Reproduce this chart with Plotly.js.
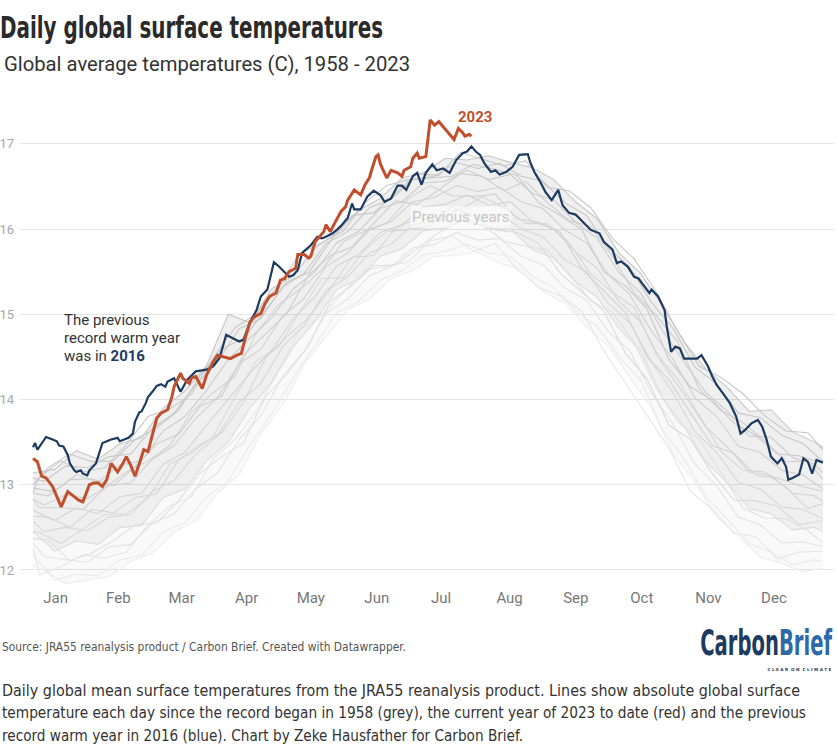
<!DOCTYPE html>
<html>
<head>
<meta charset="utf-8">
<script src="https://cdn.plot.ly/plotly-3.0.1.min.js"></script>
<style>
  html, body { margin: 0; padding: 0; background: #ffffff; }
  #chart { width: 838px; height: 750px; }
</style>
</head>
<body>
<div id="chart"></div>
<script>
// ---------------- DATA ----------------
const monthLabels = ["Jan","Feb","Mar","Apr","May","Jun","Jul","Aug","Sep","Oct","Nov","Dec"];
const monthLabelDays = [11.4, 40.3, 69.5, 99.4, 129.0, 159.4, 189.0, 220.6, 251.1, 281.5, 312.2, 342.4];
const yTickValues = [12, 13, 14, 15, 16, 17];

// 2016 (previous record warm year, blue)
const days2016 = [1,2,3,7,10,12,13,15,17,18,20,21,23,24,26,27,30,31,33,35,37,40,41,43,45,47,48,50,51,53,54,56,58,60,62,63,66,69,72,76,81,84,87,90,93,96,98,101,104,106,109,112,114,116,119,121,123,125,129,132,134,136,139,141,143,146,148,149,152,155,158,161,163,166,169,171,173,176,178,180,182,185,187,190,193,196,199,201,203,205,207,209,212,214,216,219,222,225,229,230,232,235,237,240,243,245,248,251,254,258,262,264,268,270,272,275,278,280,282,285,286,289,292,293,295,297,299,301,304,307,309,312,314,316,319,322,325,327,329,332,335,337,339,341,344,346,348,349,351,354,356,358,360,362,364,365];
const temps2016 = [13.44,13.49,13.41,13.56,13.53,13.51,13.46,13.45,13.35,13.25,13.17,13.15,13.17,13.13,13.11,13.17,13.25,13.33,13.49,13.51,13.53,13.55,13.51,13.53,13.55,13.60,13.74,13.85,13.86,13.96,14.03,14.09,14.16,14.18,14.15,14.21,14.25,14.09,14.23,14.33,14.35,14.39,14.49,14.76,14.72,14.68,14.70,14.91,15.05,15.21,15.29,15.61,15.57,15.52,15.44,15.46,15.52,15.72,15.81,15.91,15.89,15.91,15.95,15.99,16.04,16.13,16.30,16.23,16.23,16.38,16.45,16.40,16.32,16.36,16.51,16.51,16.46,16.62,16.66,16.52,16.66,16.76,16.69,16.71,16.66,16.81,16.89,16.91,16.97,16.91,16.87,16.77,16.67,16.69,16.64,16.67,16.73,16.87,16.88,16.79,16.67,16.54,16.44,16.34,16.46,16.28,16.19,16.17,16.09,15.99,15.95,15.85,15.76,15.60,15.62,15.56,15.44,15.42,15.35,15.25,15.29,15.21,15.05,14.86,14.56,14.62,14.60,14.48,14.48,14.48,14.52,14.39,14.27,14.17,14.07,13.96,13.80,13.60,13.64,13.72,13.76,13.68,13.53,13.33,13.25,13.31,13.21,13.06,13.08,13.12,13.31,13.27,13.13,13.29,13.27,13.26];

// 2023 to date (red)
const days2023 = [1,3,5,7,10,12,14,16,17,20,22,24,27,29,31,33,35,37,40,42,44,46,48,50,52,54,56,58,60,63,65,66,69,70,73,74,76,79,81,84,86,89,92,95,97,99,101,103,106,108,110,113,115,117,119,122,123,126,128,129,131,133,135,136,138,140,143,145,146,149,152,154,156,157,159,160,161,162,164,166,169,171,172,175,176,178,179,182,183,184,186,188,190,192,195,197,199,200,202,203];
const temps2023 = [13.31,13.27,13.10,13.08,12.98,12.86,12.74,12.86,12.92,12.86,12.82,12.80,13.00,13.02,13.02,12.98,13.06,13.25,13.15,13.23,13.33,13.23,13.10,13.25,13.41,13.39,13.58,13.78,13.84,13.88,14.03,14.15,14.31,14.25,14.19,14.25,14.27,14.13,14.29,14.44,14.52,14.50,14.48,14.52,14.54,14.74,14.91,14.97,15.01,15.13,15.21,15.25,15.40,15.42,15.50,15.54,15.70,15.70,15.66,15.68,15.85,15.91,15.97,16.05,15.97,16.07,16.21,16.26,16.34,16.46,16.40,16.52,16.60,16.69,16.85,16.87,16.77,16.71,16.60,16.69,16.66,16.62,16.69,16.73,16.83,16.89,16.83,16.85,17.05,17.28,17.22,17.26,17.20,17.14,17.05,17.18,17.13,17.09,17.11,17.09];

// Previous years (grey): a sample of year-lines spanning the grey band, coldest to warmest
const greyDaysA = [1,11,21,31,41,51,61,71,81,91,101,111,121,131,141,151,161,171,181,191,201,211,221,231,241,251,261,271,281,291,301,311,321,331,341,351,361,365];
const greyDaysB = [1,6,16,26,36,46,56,66,76,86,96,106,116,126,136,146,156,166,176,186,196,206,216,226,236,246,256,266,276,286,296,306,316,326,336,346,356,365];
const greyDaysC = [1,4,14,24,34,44,54,64,74,84,94,104,114,124,134,144,154,164,174,184,194,204,214,224,234,244,254,264,274,284,294,304,314,324,334,344,354,365];
const greyDaysD = [1,8,18,28,38,48,58,68,78,88,98,108,118,128,138,148,158,168,178,188,198,208,218,228,238,248,258,268,278,288,298,308,318,328,338,348,358,365];

const greyB1 = [12.05,12.00,11.84,11.88,11.92,12.10,12.20,12.44,12.58,12.90,13.12,13.60,13.93,14.42,14.73,15.05,15.18,15.42,15.51,15.68,15.69,15.73,15.60,15.52,15.27,15.13,14.85,14.63,14.26,13.90,13.36,13.03,12.62,12.40,12.15,12.08,11.98,12.02];
const greyA1 = [12.18,11.88,11.95,11.93,12.12,12.17,12.45,12.55,12.86,13.04,13.47,13.83,14.26,14.63,15.02,15.15,15.40,15.51,15.70,15.74,15.82,15.72,15.68,15.45,15.31,15.04,14.86,14.50,14.23,13.65,13.30,12.87,12.59,12.31,12.21,12.06,12.12,12.10];
const greyC1 = [12.26,11.94,12.04,12.18,12.14,12.21,12.53,12.75,12.86,13.30,13.53,13.86,14.35,14.82,14.98,15.26,15.52,15.56,15.62,15.86,15.92,15.74,15.83,15.53,15.31,15.22,15.03,14.57,14.19,13.81,13.43,12.92,12.71,12.43,12.39,12.13,12.21,12.22];
const greyB2 = [12.32,12.16,12.12,12.09,12.27,12.30,12.55,12.66,12.95,13.14,13.53,13.81,14.27,14.57,15.01,15.18,15.45,15.56,15.78,15.82,15.96,15.87,15.89,15.68,15.58,15.31,15.17,14.80,14.57,14.08,13.71,13.24,12.99,12.62,12.53,12.32,12.33,12.27];
const greyD1 = [12.37,12.35,12.11,12.20,12.34,12.53,12.55,12.81,13.14,13.33,13.49,14.03,14.30,14.63,15.15,15.34,15.57,15.58,15.77,15.96,16.09,16.05,15.86,15.80,15.75,15.47,15.16,15.02,14.67,14.14,13.74,13.53,13.14,12.73,12.61,12.60,12.46,12.32];
const greyA2 = [12.45,12.22,12.34,12.30,12.50,12.52,12.85,12.95,13.28,13.50,13.90,14.20,14.62,14.92,15.29,15.41,15.68,15.77,15.98,16.01,16.11,16.00,16.00,15.76,15.66,15.38,15.20,14.83,14.57,14.02,13.68,13.27,13.02,12.72,12.66,12.47,12.50,12.45];
const greyC2 = [12.45,12.44,12.31,12.48,12.65,12.66,12.84,13.24,13.37,13.56,14.03,14.46,14.61,15.03,15.42,15.43,15.76,15.97,15.99,16.04,16.26,16.14,15.99,15.96,15.83,15.48,15.26,15.04,14.54,14.24,13.70,13.53,13.13,12.82,12.81,12.75,12.53,12.58];
const greyB3 = [12.57,12.45,12.50,12.46,12.62,12.65,12.92,13.05,13.36,13.57,13.97,14.19,14.62,14.87,15.28,15.44,15.72,15.82,16.05,16.09,16.23,16.15,16.18,16.00,15.91,15.64,15.50,15.13,14.90,14.44,14.08,13.62,13.38,13.03,12.95,12.74,12.71,12.60];
const greyD2 = [12.63,12.62,12.50,12.71,12.67,12.85,12.89,13.29,13.47,13.61,13.97,14.48,14.74,14.96,15.30,15.67,15.69,16.01,16.13,16.10,16.23,16.38,16.25,16.07,16.06,15.84,15.47,15.26,15.08,14.54,14.24,13.81,13.39,13.17,13.15,12.97,12.72,12.78];
const greyA3 = [12.70,12.58,12.73,12.66,12.86,12.90,13.24,13.38,13.70,14.00,14.31,14.58,14.95,15.21,15.57,15.70,15.96,16.05,16.26,16.29,16.40,16.28,16.32,16.09,16.00,15.73,15.54,15.15,14.91,14.42,14.06,13.68,13.44,13.15,13.11,12.90,12.87,12.80];
const greyC3 = [12.83,12.73,12.73,12.71,12.96,13.15,13.28,13.46,13.85,14.08,14.27,14.78,15.11,15.29,15.52,15.85,15.98,16.07,16.36,16.51,16.39,16.38,16.41,16.12,16.08,15.96,15.53,15.27,15.02,14.50,14.23,13.84,13.46,13.37,13.11,13.08,12.99,12.92];
const greyB4 = [12.83,12.76,12.88,12.84,12.99,13.02,13.30,13.46,13.78,14.02,14.42,14.59,14.98,15.19,15.56,15.72,15.99,16.09,16.32,16.37,16.51,16.44,16.49,16.32,16.24,15.99,15.84,15.47,15.23,14.80,14.47,14.02,13.80,13.45,13.38,13.17,13.11,12.95];
const greyD3 = [12.90,12.87,13.06,13.07,12.99,13.21,13.48,13.59,13.92,14.04,14.52,14.76,15.01,15.46,15.69,15.79,16.07,16.33,16.29,16.46,16.65,16.62,16.45,16.56,16.31,16.10,16.03,15.68,15.25,14.99,14.68,14.12,13.87,13.73,13.52,13.27,13.28,13.06];
const greyA4 = [12.96,12.92,13.12,13.03,13.23,13.28,13.63,13.80,14.11,14.47,14.72,14.96,15.30,15.50,15.84,15.97,16.24,16.32,16.54,16.56,16.69,16.58,16.64,16.42,16.34,16.08,15.89,15.49,15.25,14.81,14.44,14.08,13.86,13.57,13.56,13.32,13.24,13.14];
const greyC4 = [12.91,13.09,13.28,13.15,13.20,13.47,13.80,13.89,14.06,14.49,14.84,15.01,15.34,15.71,15.84,15.98,16.31,16.51,16.58,16.60,16.62,16.76,16.70,16.63,16.31,16.16,15.99,15.50,15.33,15.06,14.47,14.15,13.99,13.72,13.58,13.36,13.34,13.25];
const greyB5 = [13.08,13.04,13.22,13.20,13.33,13.36,13.66,13.84,14.17,14.44,14.83,14.95,15.32,15.48,15.83,15.97,16.25,16.35,16.58,16.62,16.78,16.71,16.77,16.62,16.56,16.31,16.16,15.78,15.55,15.14,14.83,14.38,14.18,13.84,13.79,13.58,13.48,13.27];
const greyD4 = [13.00,13.20,13.36,13.27,13.28,13.53,13.67,13.87,14.28,14.59,14.72,15.04,15.38,15.49,15.86,16.16,16.19,16.42,16.65,16.63,16.90,16.82,16.74,16.80,16.49,16.45,16.25,15.89,15.65,15.27,14.80,14.39,14.26,14.07,13.81,13.63,13.61,13.41];
const greyA5 = [13.14,13.18,13.40,13.30,13.48,13.55,13.90,14.10,14.40,15.00,14.90,15.30,15.45,15.78,15.96,16.22,16.36,16.60,16.66,16.83,16.81,16.86,16.78,16.72,16.58,16.32,16.12,15.72,15.48,15.10,14.68,14.36,14.14,13.86,13.88,13.62,13.50,13.44];

// ---------------- GEOMETRY / STYLE ----------------
const W = 838, H = 750;
const M = {l: 20, r: 4, t: 114, b: 163};
const plotW = W - M.l - M.r, plotH = H - M.t - M.b;
const px = x => (x - M.l) / plotW;
const py = y => (H - M.b - y) / plotH;

const RED = '#c0502d', BLUE = '#1d3a60';
const NARROW = "'Liberation Sans Narrow', 'DejaVu Sans Condensed', 'Roboto Condensed', 'Liberation Sans', sans-serif";

// coldest (lightest) to warmest (darkest)
const greyLines = [
  [greyDaysB, greyB1], [greyDaysA, greyA1], [greyDaysC, greyC1], [greyDaysB, greyB2],
  [greyDaysD, greyD1], [greyDaysA, greyA2], [greyDaysC, greyC2], [greyDaysB, greyB3],
  [greyDaysD, greyD2], [greyDaysA, greyA3], [greyDaysC, greyC3], [greyDaysB, greyB4],
  [greyDaysD, greyD3], [greyDaysA, greyA4], [greyDaysC, greyC4], [greyDaysB, greyB5],
  [greyDaysD, greyD4], [greyDaysA, greyA5]
];
const greyShades = ['#ededed','#eaeaea','#e6e6e6','#e3e3e3','#e0e0e0','#dddddd','#dadada','#d8d8d8','#d6d6d6',
                    '#d4d4d4','#d2d2d2','#d0d0d0','#cecece','#cccccc','#cacaca','#c8c8c8','#c7c7c7','#c6c6c6'];

const traces = [
  {x: greyDaysB, y: greyB1, mode: 'lines', line: {width: 0}, hoverinfo: 'skip', showlegend: false},
  {x: greyDaysA, y: greyA5, mode: 'lines', line: {width: 0}, fill: 'tonexty', fillcolor: 'rgba(0,0,0,0.022)', hoverinfo: 'skip', showlegend: false},
  {x: greyDaysA, y: greyA2, mode: 'lines', line: {width: 0}, hoverinfo: 'skip', showlegend: false},
  {x: greyDaysA, y: greyA5, mode: 'lines', line: {width: 0}, fill: 'tonexty', fillcolor: 'rgba(0,0,0,0.04)', hoverinfo: 'skip', showlegend: false}
];
greyLines.forEach((g, i) => traces.push({
  x: g[0], y: g[1], mode: 'lines', line: {color: greyShades[i], width: 1.1}, hoverinfo: 'skip', showlegend: false
}));
traces.push({x: days2016, y: temps2016, mode: 'lines', name: '2016', line: {color: BLUE, width: 2.2}, showlegend: false});
traces.push({x: days2023, y: temps2023, mode: 'lines', name: '2023', line: {color: RED, width: 3}, showlegend: false});

const annotations = [
  // 0 subtitle
  {text: 'Global average temperatures (C), 1958 - 2023', x: px(2), y: py(64), xanchor: 'left', yanchor: 'middle', align: 'left',
   font: {family: "Roboto, 'Noto Sans', sans-serif", size: 20, color: '#333333'}, fit: 406},
  // 1 source
  {text: 'Source: JRA55 reanalysis product / Carbon Brief. Created with Datawrapper.', x: px(0), y: py(647), xanchor: 'left', yanchor: 'middle', align: 'left',
   font: {family: NARROW, size: 13, color: '#555555'}, fit: 404},
  // 2 logo (width set by horizontal scaling below)
  {text: 'Carbon<span style="color:#2f6aa8">Brief</span>', x: px(834), y: py(643), xanchor: 'right', yanchor: 'middle', align: 'right',
   font: {family: NARROW, size: 35, color: '#1d3a60', weight: 700}},
  // 3 logo tagline
  {text: 'C L E A R  O N  C L I M A T E', x: px(834), y: py(669), xanchor: 'right', yanchor: 'middle', align: 'right',
   font: {family: "'DejaVu Sans', sans-serif", size: 4.5, color: '#1d3a60', weight: 700}, fit: 64},
  // 4-6 caption
  {text: 'Daily global mean surface temperatures from the JRA55 reanalysis product. Lines show absolute global surface', x: px(0), y: py(690), xanchor: 'left', yanchor: 'middle', align: 'left',
   font: {family: NARROW, size: 17, color: '#333333'}, fit: 798},
  {text: 'temperature each day since the record began in 1958 (grey), the current year of 2023 to date (red) and the previous', x: px(0), y: py(713), xanchor: 'left', yanchor: 'middle', align: 'left',
   font: {family: NARROW, size: 17, color: '#333333'}, fit: 804},
  {text: 'record warm year in 2016 (blue). Chart by Zeke Hausfather for Carbon Brief.', x: px(0), y: py(736), xanchor: 'left', yanchor: 'middle', align: 'left',
   font: {family: NARROW, size: 17, color: '#333333'}, fit: 521},
  // 7 2023 label
  {text: '<b>2023</b>', x: px(475), y: py(117), xanchor: 'center', yanchor: 'middle', align: 'center',
   font: {family: "Roboto, sans-serif", size: 15, color: RED}},
  // 8 previous years
  {text: 'Previous years', x: px(461), y: py(216.5), xanchor: 'center', yanchor: 'middle', align: 'center',
   bgcolor: 'rgba(255,255,255,0.55)', borderpad: 1,
   font: {family: "Roboto, sans-serif", size: 15, color: '#c6c6c6'}},
  // 9-11 record note
  {text: 'The previous', x: px(62), y: py(320), xanchor: 'left', yanchor: 'middle', align: 'left',
   font: {family: "Roboto, sans-serif", size: 15, color: '#333333'}},
  {text: 'record warm year', x: px(62), y: py(338), xanchor: 'left', yanchor: 'middle', align: 'left',
   font: {family: "Roboto, sans-serif", size: 15, color: '#333333'}},
  {text: 'was in <b><span style="color:' + BLUE + '">2016</span></b>', x: px(62), y: py(356), xanchor: 'left', yanchor: 'middle', align: 'left',
   font: {family: "Roboto, sans-serif", size: 15, color: '#333333'}}
];
const fits = {};
annotations.forEach((a, i) => {
  a.xref = 'paper'; a.yref = 'paper'; a.showarrow = false;
  if (a.fit) { fits[i] = a.fit; delete a.fit; }
});
const TITLE_FIT = 383;
const LOGO_INDEX = 2, LOGO_WIDTH = 132;

const dayPerPx = 364 / 790;
const layout = {
  width: W, height: H, autosize: false,
  margin: M,
  paper_bgcolor: '#ffffff', plot_bgcolor: '#ffffff',
  title: {
    text: '<b>Daily global surface temperatures</b>',
    xref: 'container', yref: 'container', x: 0, y: 1 - 27 / H, xanchor: 'left', yanchor: 'middle',
    pad: {l: 0, r: 0, t: 0, b: 0},
    font: {family: NARROW, size: 31, color: '#2a2a2a'}
  },
  xaxis: {
    range: [1 - 13 * dayPerPx, 365 + 11 * dayPerPx],
    tickmode: 'array', tickvals: monthLabelDays, ticktext: monthLabels,
    showgrid: false, zeroline: false, showline: false, ticks: '',
    tickfont: {family: "Roboto, 'Noto Sans', sans-serif", size: 15, color: '#777777'},
    fixedrange: true
  },
  yaxis: {
    range: [11.8, 17.35],
    tickmode: 'array', tickvals: yTickValues, ticktext: yTickValues.map(String),
    showgrid: true, gridcolor: '#e6e6e6', gridwidth: 1,
    zeroline: false, showline: false, ticks: '', ticklabelstandoff: 5,
    tickfont: {family: "Roboto, sans-serif", size: 13, color: '#a6a6a6'},
    fixedrange: true
  },
  annotations: annotations,
  showlegend: false,
  hovermode: false
};

// Shrink fonts so that each fitted text's natural width does not exceed its target,
// then set the exact width with textLength.
function shrinkToFit(gd) {
  const upd = {};
  gd.querySelectorAll('g.annotation').forEach(g => {
    const i = +g.getAttribute('data-index');
    if (!fits[i]) return;
    const t = g.querySelector('text.annotation-text');
    if (!t) return;
    const w = t.getComputedTextLength();
    if (w > fits[i]) upd['annotations[' + i + '].font.size'] = annotations[i].font.size * fits[i] / w * 0.995;
  });
  return Object.keys(upd).length ? Plotly.relayout(gd, upd) : Promise.resolve(gd);
}
function setLengths(gd) {
  gd.querySelectorAll('g.annotation').forEach(g => {
    const i = +g.getAttribute('data-index');
    const t = g.querySelector('text.annotation-text');
    if (!t) return;
    if (fits[i]) { t.setAttribute('textLength', fits[i]); t.setAttribute('lengthAdjust', 'spacingAndGlyphs'); }
    if (i === LOGO_INDEX) {
      const bb = t.getBBox();
      const s = LOGO_WIDTH / bb.width;
      const ox = bb.x + bb.width;
      const prev = t.getAttribute('transform') || '';
      t.setAttribute('transform', (prev + ' translate(' + ox + ' 0) scale(' + s + ' 1) translate(' + (-ox) + ' 0)').trim());
    }
  });
  const tt = gd.querySelector('.gtitle');
  if (tt) { tt.setAttribute('textLength', TITLE_FIT); tt.setAttribute('lengthAdjust', 'spacingAndGlyphs'); }
}

Plotly.newPlot('chart', traces, layout, {displayModeBar: false, staticPlot: true})
  .then(gd => shrinkToFit(gd).then(() => setLengths(gd)));
</script>
</body>
</html>
